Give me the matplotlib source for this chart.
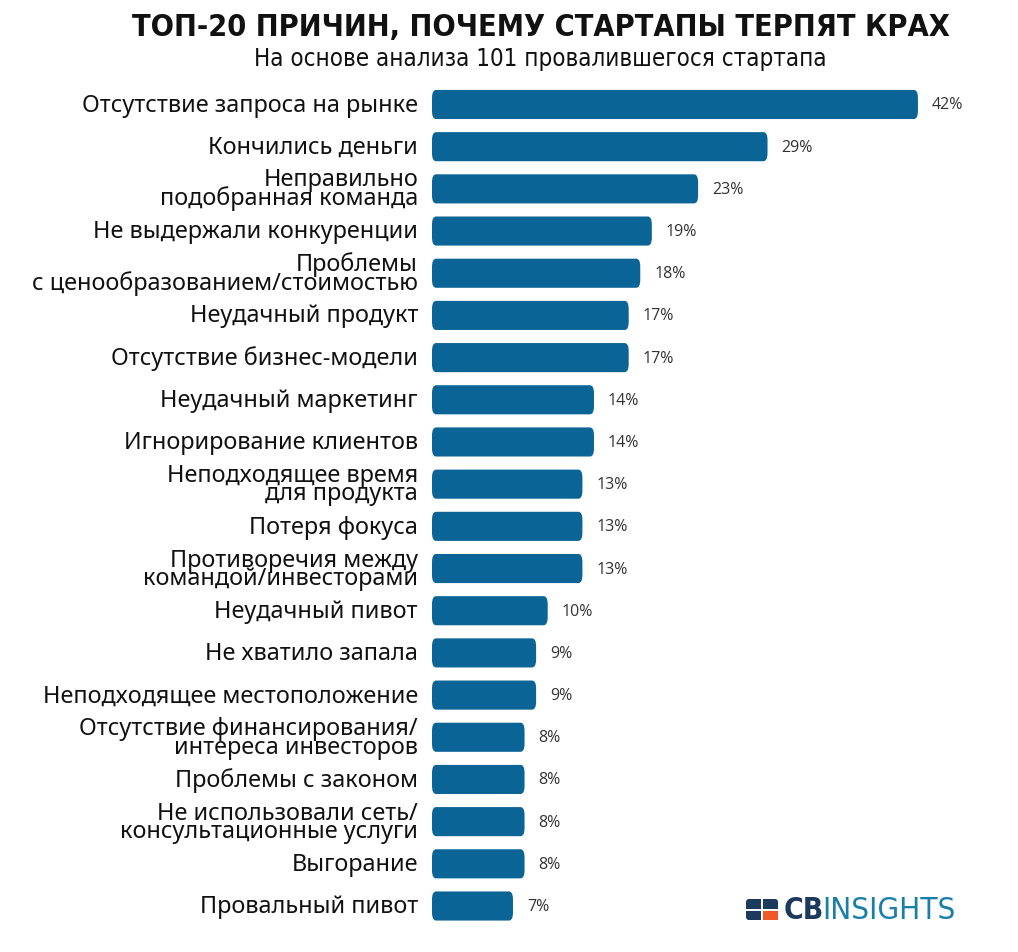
import matplotlib
matplotlib.use("Agg")
import matplotlib.pyplot as plt
from matplotlib.patches import FancyBboxPatch, Rectangle

categories = [
    "Отсутствие запроса на рынке",
    "Кончились деньги",
    "Неправильно\nподобранная команда",
    "Не выдержали конкуренции",
    "Проблемы\nс ценообразованием/стоимостью",
    "Неудачный продукт",
    "Отсутствие бизнес-модели",
    "Неудачный маркетинг",
    "Игнорирование клиентов",
    "Неподходящее время\nдля продукта",
    "Потеря фокуса",
    "Противоречия между\nкомандой/инвесторами",
    "Неудачный пивот",
    "Не хватило запала",
    "Неподходящее местоположение",
    "Отсутствие финансирования/\nинтереса инвесторов",
    "Проблемы с законом",
    "Не использовали сеть/\nконсультационные услуги",
    "Выгорание",
    "Провальный пивот",
]
values = [42, 29, 23, 19, 18, 17, 17, 14, 14, 13, 13, 13, 10, 9, 9, 8, 8, 8, 8, 7]
value_labels = [f"{v}%" for v in values]

title = "ТОП-20 ПРИЧИН, ПОЧЕМУ СТАРТАПЫ ТЕРПЯТ КРАХ"
subtitle = "На основе анализа 101 провалившегося стартапа"

W, H = 1018, 953
fig = plt.figure(figsize=(W / 100, H / 100), dpi=100)
fig.patch.set_facecolor("white")

bar_color = "#0a6596"
px_left, px_right = 432, 1018
px_top, px_bot = 84.4, 928.1
ax = fig.add_axes([px_left / W, 1 - px_bot / H, (px_right - px_left) / W, (px_bot - px_top) / H])
ax.set_xlim(0, (px_right - px_left) / 11.57)
ax.set_ylim(len(values) - 0.5, -0.5)
ax.axis("off")

bh = 0.69
for i, v in enumerate(values):
    p = FancyBboxPatch((0, i - bh / 2), v, bh,
                       boxstyle="round,pad=0,rounding_size=0.35",
                       mutation_aspect=0.55,
                       facecolor=bar_color, edgecolor="none")
    ax.add_patch(p)
    ax.text(v + 1.2, i, value_labels[i], va="center", ha="left",
            fontsize=11.5, color="#333333", family="Open Sans")

label_family = ["Noto Sans", "DejaVu Sans"]
for i, c in enumerate(categories):
    fig.text(418 / W, 1 - (105.5 + 42.2 * i) / H, c, ha="right", va="center",
             fontsize=16.9, fontweight="medium", color="#111111",
             family=label_family, linespacing=0.68)

fig.text(541 / W, 1 - 28 / H, title, ha="center", va="center", fontsize=22,
         fontweight="bold", fontstretch="condensed", family="DejaVu Sans", color="#111111")
fig.text(540 / W, 1 - 59 / H, subtitle, ha="center", va="center", fontsize=17.3,
         fontstretch="condensed", family="DejaVu Sans", color="#111111")

# logo
lax = fig.add_axes([0, 0, 1, 1], facecolor="none")
lax.set_xlim(0, W)
lax.set_ylim(H, 0)
lax.axis("off")
lax.add_patch(FancyBboxPatch((746, 900), 32, 21, boxstyle="round,pad=0,rounding_size=3",
                             facecolor="#1b3a5c", edgecolor="none"))
lax.add_patch(Rectangle((763, 911), 15, 10, facecolor="#f05a28", edgecolor="none"))
lax.add_patch(Rectangle((761, 900), 2, 21, facecolor="white", edgecolor="none"))
lax.add_patch(Rectangle((746, 909.5), 32, 2, facecolor="white", edgecolor="none"))
lax.text(784, 911, "CB", ha="left", va="center", fontsize=21.5, fontweight="bold",
         color="#1b3a5c", family="DejaVu Sans", fontstretch="condensed")
lax.text(822, 911, "INSIGHTS", ha="left", va="center", fontsize=22.5,
         color="#1a7fa8", family="DejaVu Sans", fontstretch="condensed")

fig.savefig("out.png", dpi=100, facecolor="white")
